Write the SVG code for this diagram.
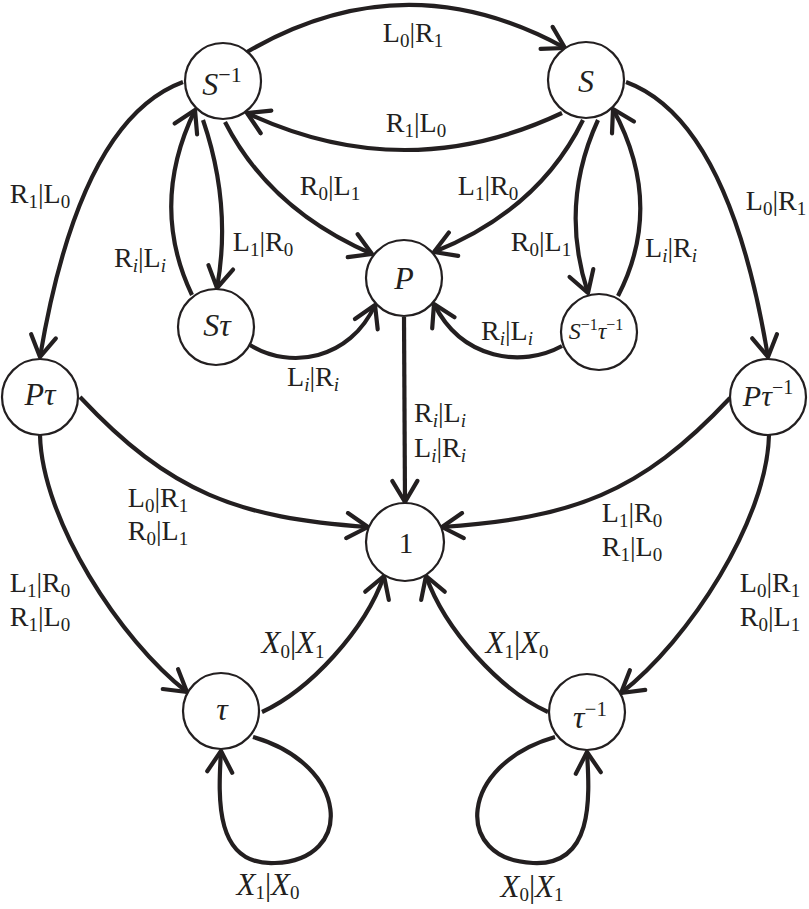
<svg xmlns="http://www.w3.org/2000/svg" width="809" height="909" viewBox="0 0 809 909">
<style>
.node circle{fill:#fff;stroke:#231f20;stroke-width:2.2}
.edge{fill:none;stroke:#231f20;stroke-width:4.2;marker-end:url(#ar)}
text{fill:#231f20;font-family:"Liberation Serif",serif}
.lab{font-size:28px;text-anchor:middle}
.tt{font-family:"Liberation Serif",serif}
.sb{font-size:19px}
.sbi{font-size:19px;font-style:italic}
.nl{font-size:32px;text-anchor:middle}
.mi{font-style:italic}
.sup{font-size:22px}
.xl{font-size:31px;text-anchor:middle}
</style>
<defs>
<marker id="ar" markerUnits="userSpaceOnUse" viewBox="-25 -15 30 30" markerWidth="30" markerHeight="30" refX="0" refY="0" orient="auto">
<path d="M-21,-12.5 L0,0 L-21,12.5" fill="none" stroke="#231f20" stroke-width="4.2" stroke-linecap="round" stroke-linejoin="round"/>
</marker>
</defs>
<g id="connectors">
<path class="edge" d="M247,52 Q405,-40 565,48"/>
<path class="edge" d="M562,113 Q405,187 247,113"/>
<path class="edge" d="M225,122 Q270,210 372,254"/>
<path class="edge" d="M583,120 Q539,210 434,252"/>
<path class="edge" d="M203,120 Q232,205 217,288"/>
<path class="edge" d="M192,295 Q149,205 195,110"/>
<path class="edge" d="M183,82 Q80,120 40,357"/>
<path class="edge" d="M626,82 Q729,120 768,357"/>
<path class="edge" d="M598,120 Q559,205 588,293"/>
<path class="edge" d="M618,296 Q665,205 613,109"/>
<path class="edge" d="M250,345 C290,370 350,360 375,305"/>
<path class="edge" d="M562,346 C522,368 462,360 434,304"/>
<path class="edge" d="M404,317 L405,502"/>
<path class="edge" d="M80,397 C170,493 238,518 368,527"/>
<path class="edge" d="M730,398 C640,494 572,518 442,527"/>
<path class="edge" d="M40,435 C42,520 120,640 187,692"/>
<path class="edge" d="M769,435 C767,520 689,640 621,693"/>
<path class="edge" d="M262,712 C310,690 365,630 384,576"/>
<path class="edge" d="M548,712 C500,690 445,630 426,576"/>
<path class="edge" d="M253,737 C350,765 355,860 275,863 C215,866 218,800 221,751"/>
<path class="edge" d="M555,737 C458,765 453,860 533,863 C593,866 590,800 587,752"/>
</g>
<g id="edge-labels">
<text class="lab" x="413" y="42"><tspan class="tt">L</tspan><tspan class="sb" dy="5">0</tspan><tspan dy="-5">|</tspan><tspan class="tt">R</tspan><tspan class="sb" dy="5">1</tspan></text>
<text class="lab" x="416" y="132"><tspan class="tt">R</tspan><tspan class="sb" dy="5">1</tspan><tspan dy="-5">|</tspan><tspan class="tt">L</tspan><tspan class="sb" dy="5">0</tspan></text>
<text class="lab" x="330" y="195"><tspan class="tt">R</tspan><tspan class="sb" dy="5">0</tspan><tspan dy="-5">|</tspan><tspan class="tt">L</tspan><tspan class="sb" dy="5">1</tspan></text>
<text class="lab" x="488" y="195"><tspan class="tt">L</tspan><tspan class="sb" dy="5">1</tspan><tspan dy="-5">|</tspan><tspan class="tt">R</tspan><tspan class="sb" dy="5">0</tspan></text>
<text class="lab" x="263" y="251"><tspan class="tt">L</tspan><tspan class="sb" dy="5">1</tspan><tspan dy="-5">|</tspan><tspan class="tt">R</tspan><tspan class="sb" dy="5">0</tspan></text>
<text class="lab" x="140" y="267"><tspan class="tt">R</tspan><tspan class="sbi" dy="5">i</tspan><tspan dy="-5">|</tspan><tspan class="tt">L</tspan><tspan class="sbi" dy="5">i</tspan></text>
<text class="lab" x="40" y="203"><tspan class="tt">R</tspan><tspan class="sb" dy="5">1</tspan><tspan dy="-5">|</tspan><tspan class="tt">L</tspan><tspan class="sb" dy="5">0</tspan></text>
<text class="lab" x="776" y="210"><tspan class="tt">L</tspan><tspan class="sb" dy="5">0</tspan><tspan dy="-5">|</tspan><tspan class="tt">R</tspan><tspan class="sb" dy="5">1</tspan></text>
<text class="lab" x="541" y="251"><tspan class="tt">R</tspan><tspan class="sb" dy="5">0</tspan><tspan dy="-5">|</tspan><tspan class="tt">L</tspan><tspan class="sb" dy="5">1</tspan></text>
<text class="lab" x="671" y="257"><tspan class="tt">L</tspan><tspan class="sbi" dy="5">i</tspan><tspan dy="-5">|</tspan><tspan class="tt">R</tspan><tspan class="sbi" dy="5">i</tspan></text>
<text class="lab" x="313" y="386"><tspan class="tt">L</tspan><tspan class="sbi" dy="5">i</tspan><tspan dy="-5">|</tspan><tspan class="tt">R</tspan><tspan class="sbi" dy="5">i</tspan></text>
<text class="lab" x="507" y="340"><tspan class="tt">R</tspan><tspan class="sbi" dy="5">i</tspan><tspan dy="-5">|</tspan><tspan class="tt">L</tspan><tspan class="sbi" dy="5">i</tspan></text>
<text class="lab" x="440" y="422"><tspan class="tt">R</tspan><tspan class="sbi" dy="5">i</tspan><tspan dy="-5">|</tspan><tspan class="tt">L</tspan><tspan class="sbi" dy="5">i</tspan></text>
<text class="lab" x="440" y="457"><tspan class="tt">L</tspan><tspan class="sbi" dy="5">i</tspan><tspan dy="-5">|</tspan><tspan class="tt">R</tspan><tspan class="sbi" dy="5">i</tspan></text>
<text class="lab" x="158" y="507"><tspan class="tt">L</tspan><tspan class="sb" dy="5">0</tspan><tspan dy="-5">|</tspan><tspan class="tt">R</tspan><tspan class="sb" dy="5">1</tspan></text>
<text class="lab" x="158" y="540"><tspan class="tt">R</tspan><tspan class="sb" dy="5">0</tspan><tspan dy="-5">|</tspan><tspan class="tt">L</tspan><tspan class="sb" dy="5">1</tspan></text>
<text class="lab" x="632" y="522"><tspan class="tt">L</tspan><tspan class="sb" dy="5">1</tspan><tspan dy="-5">|</tspan><tspan class="tt">R</tspan><tspan class="sb" dy="5">0</tspan></text>
<text class="lab" x="632" y="556"><tspan class="tt">R</tspan><tspan class="sb" dy="5">1</tspan><tspan dy="-5">|</tspan><tspan class="tt">L</tspan><tspan class="sb" dy="5">0</tspan></text>
<text class="lab" x="40" y="592"><tspan class="tt">L</tspan><tspan class="sb" dy="5">1</tspan><tspan dy="-5">|</tspan><tspan class="tt">R</tspan><tspan class="sb" dy="5">0</tspan></text>
<text class="lab" x="40" y="626"><tspan class="tt">R</tspan><tspan class="sb" dy="5">1</tspan><tspan dy="-5">|</tspan><tspan class="tt">L</tspan><tspan class="sb" dy="5">0</tspan></text>
<text class="lab" x="770" y="592"><tspan class="tt">L</tspan><tspan class="sb" dy="5">0</tspan><tspan dy="-5">|</tspan><tspan class="tt">R</tspan><tspan class="sb" dy="5">1</tspan></text>
<text class="lab" x="770" y="626"><tspan class="tt">R</tspan><tspan class="sb" dy="5">0</tspan><tspan dy="-5">|</tspan><tspan class="tt">L</tspan><tspan class="sb" dy="5">1</tspan></text>
<text class="xl" x="293" y="653"><tspan class="mi">X</tspan><tspan class="sb" dy="5">0</tspan><tspan dy="-5">|</tspan><tspan class="mi">X</tspan><tspan class="sb" dy="5">1</tspan></text>
<text class="xl" x="517" y="653"><tspan class="mi">X</tspan><tspan class="sb" dy="5">1</tspan><tspan dy="-5">|</tspan><tspan class="mi">X</tspan><tspan class="sb" dy="5">0</tspan></text>
<text class="xl" x="268" y="895"><tspan class="mi">X</tspan><tspan class="sb" dy="4">1</tspan><tspan dy="-4">|</tspan><tspan class="mi">X</tspan><tspan class="sb" dy="4">0</tspan></text>
<text class="xl" x="532" y="897"><tspan class="mi">X</tspan><tspan class="sb" dy="4">0</tspan><tspan dy="-4">|</tspan><tspan class="mi">X</tspan><tspan class="sb" dy="4">1</tspan></text>
</g>
<g id="node-Sinv" class="node"><circle cx="223" cy="81" r="38"/><text class="nl" x="222" y="95"><tspan class="mi">S</tspan><tspan class="sup" dy="-13">−1</tspan></text></g>
<g id="node-S" class="node"><circle cx="586" cy="80" r="38"/><text class="nl" x="586" y="92"><tspan class="mi">S</tspan></text></g>
<g id="node-P" class="node"><circle cx="404" cy="278" r="38"/><text class="nl" x="404" y="289"><tspan class="mi">P</tspan></text></g>
<g id="node-Stau" class="node"><circle cx="216" cy="327" r="38"/><text class="nl" x="217" y="336"><tspan class="mi">Sτ</tspan></text></g>
<g id="node-SinvTauinv" class="node"><circle cx="599" cy="332" r="38"/><text x="596" y="339" style="font-size:24px;text-anchor:middle"><tspan class="mi">S</tspan><tspan dy="-9" style="font-size:16px">−1</tspan><tspan class="mi" dy="9">τ</tspan><tspan dy="-9" style="font-size:16px">−1</tspan></text></g>
<g id="node-Ptau" class="node"><circle cx="40" cy="397" r="38"/><text class="nl" x="40" y="405"><tspan class="mi">Pτ</tspan></text></g>
<g id="node-Ptauinv" class="node"><circle cx="768" cy="397" r="38"/><text class="nl" x="768" y="406" style="font-size:30px"><tspan class="mi">Pτ</tspan><tspan class="sup" dy="-12" style="font-size:20px">−1</tspan></text></g>
<g id="node-1" class="node"><circle cx="405" cy="542" r="39"/><text class="nl" x="406" y="553" style="font-size:29px">1</text></g>
<g id="node-tau" class="node"><circle cx="221" cy="711" r="38"/><text class="nl" x="222" y="720"><tspan class="mi">τ</tspan></text></g>
<g id="node-tauinv" class="node"><circle cx="587" cy="712" r="38"/><text class="nl" x="590" y="728"><tspan class="mi">τ</tspan><tspan class="sup" dy="-12" style="font-size:21px">−1</tspan></text></g>
</svg>
